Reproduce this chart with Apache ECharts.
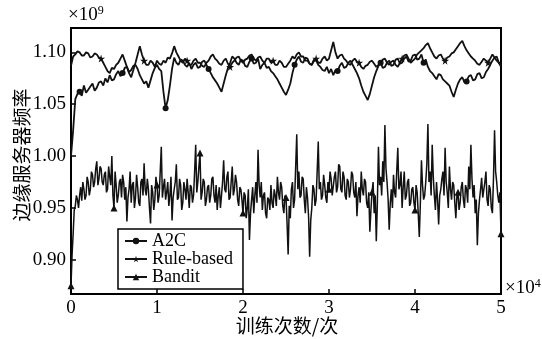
<!DOCTYPE html>
<html>
<head>
<meta charset="utf-8">
<script src="https://cdn.jsdelivr.net/npm/echarts@6/dist/echarts.min.js"></script>
<style>
  html, body { margin: 0; padding: 0; background: #fff; }
  #chart { width: 542px; height: 339px; }
</style>
</head>
<body>
<div id="chart"></div>
<script>
// Training steps are in units of 1e4, edge-server frequency in units of 1e9.
const xTicks = [0, 1, 2, 3, 4, 5];
const yTicks = [0.90, 0.95, 1.00, 1.05, 1.10];
const seriesNames = ['A2C', 'Rule-based', 'Bandit'];

// Every curve is sampled evenly from 0 to xEnd (x 1e4 steps).
const xEnd = 5;

const a2c = [
  1.000, 1.025, 1.055, 1.060, 1.062, 1.058, 1.068, 1.061, 1.064, 1.067,
  1.070, 1.063, 1.066, 1.071, 1.072, 1.068, 1.075, 1.071, 1.078, 1.073,
  1.074, 1.079, 1.082, 1.077, 1.080, 1.085, 1.086, 1.081, 1.083, 1.087,
  1.088, 1.084, 1.078, 1.074, 1.070, 1.072, 1.066, 1.073, 1.080, 1.085,
  1.088, 1.084, 1.082, 1.062, 1.046, 1.054, 1.068, 1.084, 1.095, 1.090,
  1.088, 1.093, 1.092, 1.088, 1.086, 1.090, 1.084, 1.088, 1.090, 1.085,
  1.086, 1.091, 1.092, 1.088, 1.084, 1.080, 1.076, 1.073, 1.070, 1.066,
  1.062, 1.070, 1.078, 1.085, 1.090, 1.096, 1.094, 1.090, 1.088, 1.093,
  1.092, 1.087, 1.086, 1.091, 1.094, 1.089, 1.090, 1.094, 1.084, 1.088,
  1.090, 1.085, 1.086, 1.082, 1.080, 1.077, 1.074, 1.070, 1.066, 1.062,
  1.059, 1.064, 1.070, 1.080, 1.088, 1.093, 1.096, 1.091, 1.090, 1.095,
  1.094, 1.089, 1.088, 1.093, 1.092, 1.088, 1.086, 1.083, 1.082, 1.086,
  1.080, 1.084, 1.078, 1.083, 1.082, 1.087, 1.090, 1.085, 1.086, 1.090,
  1.092, 1.088, 1.084, 1.080, 1.075, 1.068, 1.062, 1.058, 1.054, 1.060,
  1.068, 1.076, 1.082, 1.087, 1.090, 1.085, 1.086, 1.090, 1.092, 1.087,
  1.088, 1.093, 1.094, 1.089, 1.090, 1.094, 1.096, 1.091, 1.092, 1.097,
  1.098, 1.093, 1.094, 1.098, 1.090, 1.093, 1.086, 1.082, 1.080, 1.077,
  1.074, 1.079, 1.078, 1.074, 1.072, 1.070, 1.068, 1.062, 1.057, 1.064,
  1.070, 1.074, 1.076, 1.071, 1.072, 1.077, 1.078, 1.073, 1.074, 1.079,
  1.080, 1.075, 1.076, 1.081, 1.084, 1.088, 1.092, 1.095, 1.096, 1.090,
  1.086
];

const ruleBased = [
  1.087, 1.096, 1.098, 1.101, 1.100, 1.097, 1.097, 1.100, 1.099, 1.095,
  1.096, 1.099, 1.098, 1.095, 1.094, 1.090, 1.086, 1.082, 1.080, 1.085,
  1.084, 1.088, 1.090, 1.094, 1.098, 1.092, 1.086, 1.080, 1.076, 1.083,
  1.090, 1.098, 1.106, 1.098, 1.092, 1.088, 1.088, 1.092, 1.090, 1.086,
  1.092, 1.089, 1.088, 1.092, 1.090, 1.095, 1.094, 1.099, 1.106, 1.100,
  1.096, 1.092, 1.090, 1.094, 1.092, 1.088, 1.088, 1.092, 1.094, 1.090,
  1.090, 1.087, 1.086, 1.090, 1.092, 1.096, 1.098, 1.094, 1.092, 1.089,
  1.088, 1.092, 1.094, 1.089, 1.086, 1.090, 1.092, 1.095, 1.096, 1.092,
  1.090, 1.093, 1.094, 1.097, 1.098, 1.094, 1.092, 1.095, 1.096, 1.092,
  1.090, 1.094, 1.094, 1.090, 1.092, 1.088, 1.088, 1.092, 1.090, 1.086,
  1.086, 1.089, 1.092, 1.096, 1.094, 1.098, 1.100, 1.096, 1.096, 1.092,
  1.092, 1.089, 1.088, 1.092, 1.094, 1.090, 1.090, 1.094, 1.096, 1.092,
  1.094, 1.102, 1.110, 1.100, 1.094, 1.097, 1.098, 1.094, 1.092, 1.089,
  1.088, 1.092, 1.094, 1.091, 1.090, 1.086, 1.084, 1.087, 1.088, 1.091,
  1.092, 1.089, 1.086, 1.088, 1.090, 1.093, 1.094, 1.090, 1.088, 1.091,
  1.092, 1.088, 1.086, 1.090, 1.094, 1.097, 1.098, 1.094, 1.090, 1.092,
  1.094, 1.098, 1.100, 1.102, 1.104, 1.107, 1.109, 1.104, 1.100, 1.096,
  1.094, 1.097, 1.098, 1.094, 1.092, 1.095, 1.096, 1.099, 1.100, 1.103,
  1.106, 1.109, 1.111, 1.106, 1.102, 1.099, 1.096, 1.094, 1.092, 1.089,
  1.088, 1.091, 1.094, 1.092, 1.090, 1.094, 1.098, 1.095, 1.092, 1.090,
  1.088
];

const bandit = [
  0.875, 0.905, 0.925, 0.948, 0.952, 0.962, 0.958, 0.950, 0.962, 0.970,
  0.957, 0.975, 0.968, 0.958, 0.962, 0.980, 0.975, 0.962, 0.968, 0.985,
  0.982, 0.970, 0.975, 0.988, 0.995, 0.972, 0.978, 0.990, 0.988, 0.975,
  0.972, 0.982, 0.985, 0.965, 0.968, 0.990, 0.980, 0.972, 1.000, 0.962,
  0.950, 0.985, 0.972, 0.955, 0.962, 0.975, 0.978, 0.960, 0.982, 0.975,
  0.958, 0.970, 0.937, 0.960, 0.968, 0.985, 0.955, 0.972, 0.975, 0.950,
  0.960, 0.982, 0.970, 0.955, 0.952, 0.975, 0.978, 0.962, 0.993, 0.968,
  0.962, 0.978, 0.968, 0.950, 0.935, 0.972, 0.965, 0.948, 0.958, 0.980,
  0.972, 0.955, 0.962, 0.985, 1.009, 0.960, 0.970, 0.978, 0.958, 0.965,
  0.975, 0.952, 0.962, 0.980, 0.938, 0.960, 0.968, 0.975, 0.992, 0.958,
  0.960, 0.978, 0.972, 0.948, 0.955, 0.975, 0.968, 0.958, 0.978, 0.965,
  0.950, 0.972, 0.970, 0.955, 0.962, 0.985, 1.011, 0.965, 0.975, 0.990,
  1.003, 0.958, 0.965, 0.978, 0.975, 0.952, 0.958, 0.970, 0.972, 0.955,
  0.962, 0.978, 0.980, 0.962, 0.955, 0.972, 0.948, 0.962, 0.970, 0.950,
  0.962, 0.975, 0.996, 0.968, 0.965, 0.980, 0.985, 0.958, 0.960, 0.975,
  0.990, 0.962, 0.968, 0.982, 0.975, 0.958, 0.952, 0.970, 0.968, 0.958,
  0.945, 0.965, 0.962, 0.940, 0.950, 0.968, 0.919, 0.945, 0.958, 0.970,
  0.945, 0.962, 0.975, 0.955, 1.006, 0.972, 0.960, 0.975, 0.948, 0.962,
  0.965, 0.945, 0.940, 0.960, 0.958, 0.948, 0.972, 0.955, 0.950, 0.968,
  0.962, 0.952, 0.980, 0.965, 0.958, 0.975, 0.970, 0.952, 0.945, 0.962,
  0.960, 0.935, 0.905, 0.952, 0.940, 0.968, 0.975, 0.950, 0.958, 0.990,
  1.021, 0.968, 0.985, 0.960, 0.962, 0.980, 0.978, 0.958, 0.945, 0.970,
  0.960, 0.942, 0.903, 0.938, 0.950, 0.972, 0.968, 0.952, 0.958, 0.985,
  1.014, 0.968, 0.975, 0.958, 0.962, 0.982, 0.972, 0.960, 0.955, 0.975,
  0.968, 0.985, 0.978, 0.962, 0.962, 0.980, 0.985, 0.965, 0.970, 0.992,
  0.990, 0.968, 0.965, 0.985, 0.980, 0.962, 0.958, 0.978, 0.975, 0.960,
  0.968, 0.985, 0.982, 0.965, 0.960, 0.975, 0.942, 0.962, 0.970, 0.955,
  0.985, 0.968, 0.962, 0.978, 0.975, 0.955, 0.950, 0.965, 0.927, 0.948,
  0.965, 0.975, 0.945, 0.962, 0.918, 0.955, 1.009, 0.972, 0.980, 0.962,
  0.995, 0.975, 1.030, 0.988, 0.975, 0.958, 0.929, 0.955, 0.968, 0.950,
  0.982, 0.965, 0.960, 0.985, 1.008, 0.968, 0.972, 0.985, 0.950, 0.970,
  0.985, 0.958, 0.962, 0.975, 0.978, 0.952, 0.955, 0.968, 0.970, 0.955,
  0.948, 0.972, 0.965, 0.945, 0.922, 0.955, 0.996, 0.972, 0.958, 0.962,
  0.975, 0.992, 1.031, 0.975, 0.985, 0.962, 1.011, 0.980, 0.962, 0.948,
  0.975, 0.958, 0.934, 0.962, 0.968, 0.978, 0.985, 0.962, 1.008, 0.975,
  0.965, 0.950, 0.990, 0.968, 0.958, 0.975, 0.972, 0.955, 0.940, 0.962,
  0.965, 0.948, 0.955, 0.970, 0.975, 0.958, 0.950, 0.972, 0.968, 0.955,
  0.990, 0.968, 1.011, 0.978, 0.960, 0.972, 0.945, 0.958, 0.914, 0.945,
  0.958, 0.968, 0.979, 0.960, 0.960, 0.975, 0.985, 0.958, 0.952, 0.972,
  0.968, 0.950, 0.945, 0.978, 1.025, 0.985, 0.975, 0.962, 0.955, 0.965,
  0.925
];

const serif = "'Liberation Serif', 'Times New Roman', serif";

const starPath = 'path://M50,0 L61,35 L98,35 L68,57 L79,91 L50,70 L21,91 L32,57 L2,35 L39,35 Z';

// Turn a value list into evenly spaced [x, y] points; only every n-th point keeps its marker.
function toPoints(values, every, offset) {
  const step = xEnd / (values.length - 1);
  return values.map((v, i) => {
    const item = { value: [Math.round(i * step * 10000) / 10000, v] };
    if ((i - offset) % every !== 0) item.symbol = 'none';
    return item;
  });
}

function lineSeries(name, points, symbol, size, width) {
  return {
    name: name,
    type: 'line',
    data: points,
    symbol: symbol,
    symbolSize: size,
    showAllSymbol: true,
    lineStyle: { color: '#111', width: width },
    itemStyle: { color: '#111' },
    animation: false,
    z: 3
  };
}

const chart = echarts.init(document.getElementById('chart'), null, { renderer: 'canvas' });

chart.setOption({
  backgroundColor: '#fff',
  animation: false,
  grid: {
    left: 71, right: 41, top: 28, bottom: 45,
    show: true, borderColor: '#000', borderWidth: 2
  },
  xAxis: {
    type: 'value', min: 0, max: 5, interval: 1,
    axisLine: { show: true, onZero: false, lineStyle: { color: '#000', width: 2 } },
    axisTick: { show: true, inside: true, length: 5, lineStyle: { color: '#000', width: 1.5 } },
    axisLabel: {
      color: '#000', fontFamily: serif, fontSize: 19, margin: 5,
      formatter: v => xTicks.includes(v) ? String(v) : ''
    },
    splitLine: { show: false }
  },
  yAxis: {
    type: 'value', min: 0.867, max: 1.1235,
    axisLine: { show: true, onZero: false, lineStyle: { color: '#000', width: 2 } },
    axisTick: { show: true, inside: true, length: 5, customValues: yTicks, lineStyle: { color: '#000', width: 1.5 } },
    axisLabel: {
      color: '#000', fontFamily: serif, fontSize: 19, margin: 5,
      customValues: yTicks,
      formatter: v => v.toFixed(2)
    },
    splitLine: { show: false }
  },
  legend: {
    orient: 'vertical',
    left: 118, top: 229,
    data: seriesNames,
    itemWidth: 22, itemHeight: 8, itemGap: 0, itemTextGap: 3,
    padding: [3, 10, 3, 6],
    borderColor: '#000', borderWidth: 1.5,
    backgroundColor: '#fff',
    textStyle: { color: '#000', fontFamily: serif, fontSize: 18, lineHeight: 16 }
  },
  graphic: [
    {
      type: 'text', left: 68, top: 5,
      style: {
        text: '×10{sup|9}',
        fill: '#000', font: "19px 'Liberation Serif', serif",
        rich: { sup: { fontSize: 12, fontFamily: serif, fill: '#000', verticalAlign: 'top', padding: [0, 0, 8, 0] } }
      }
    },
    {
      type: 'text', left: 505, top: 278,
      style: {
        text: '×10{sup|4}',
        fill: '#000', font: "19px 'Liberation Serif', serif",
        rich: { sup: { fontSize: 12, fontFamily: serif, fill: '#000', verticalAlign: 'top', padding: [0, 0, 8, 0] } }
      }
    },
    {
      type: 'text', x: 22, y: 155, rotation: Math.PI / 2,
      style: {
        text: '边缘服务器频率', fill: '#000',
        font: "19px 'Noto Sans CJK SC', sans-serif",
        align: 'center', verticalAlign: 'middle'
      }
    },
    {
      type: 'text', x: 287, y: 326,
      style: {
        text: '训练次数/次', fill: '#000',
        font: "19px 'Noto Sans CJK SC', sans-serif",
        align: 'center', verticalAlign: 'middle'
      }
    }
  ],
  series: [
    lineSeries(seriesNames[0], toPoints(a2c, 20, 4), 'circle', 6, 1.8),
    lineSeries(seriesNames[1], toPoints(ruleBased, 20, 14), starPath, 8, 1.8),
    lineSeries(seriesNames[2], toPoints(bandit, 40, 0), 'triangle', 7, 1.5)
  ]
});
</script>
</body>
</html>
